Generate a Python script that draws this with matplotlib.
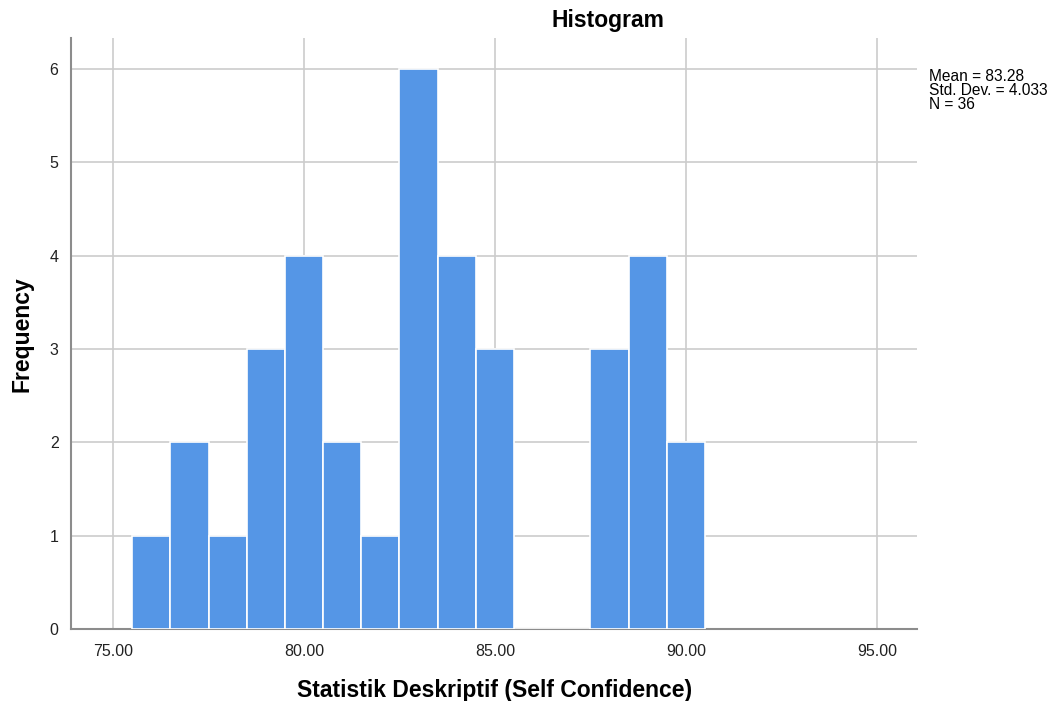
import matplotlib
matplotlib.use("Agg")
import matplotlib.pyplot as plt

plt.rcParams['font.family'] = ['Liberation Sans', 'DejaVu Sans']

bin_centers = [76, 77, 78, 79, 80, 81, 82, 83, 84, 85, 86, 87, 88, 89, 90]
counts = [1, 2, 1, 3, 4, 2, 1, 6, 4, 3, 0, 0, 3, 4, 2]
x_ticks = [75, 80, 85, 90, 95]
x_tick_labels = ["75.00", "80.00", "85.00", "90.00", "95.00"]
y_ticks = [0, 1, 2, 3, 4, 5, 6]
stats_text = "Mean = 83.28\nStd. Dev. = 4.033\nN = 36"

fig = plt.figure(figsize=(10.57, 7.01), dpi=100)
ax = fig.add_axes([0.0672, 0.1027, 0.8003, 0.8431])

ax.bar(bin_centers, counts, width=1.0, color='#5596E6', edgecolor='white',
       linewidth=1.2, zorder=3)

ax.set_xlim(73.9, 96.05)
ax.set_ylim(0, 6.33)
ax.set_xticks(x_ticks)
ax.set_xticklabels(x_tick_labels)
ax.set_yticks(y_ticks)
ax.grid(True, color='#cccccc', linewidth=1.2, zorder=0)
ax.set_axisbelow(True)
ax.tick_params(length=0, labelsize=11.5, colors='#222222')
ax.tick_params(axis='x', pad=11)
ax.tick_params(axis='y', pad=9)
for s in ['top', 'right']:
    ax.spines[s].set_visible(False)
for s in ['left', 'bottom']:
    ax.spines[s].set_color('#8c8c8c')
    ax.spines[s].set_linewidth(1.5)

fig.text(495 / 1057, 1 - 690 / 701, "Statistik Deskriptif (Self Confidence)",
         fontsize=16.5, fontweight='bold', ha='center', va='center')
fig.text(22 / 1057, 1 - 334 / 701, "Frequency", fontsize=16.5,
         fontweight='bold', ha='center', va='center', rotation=90)

fig.text(608 / 1057, 1 - 20 / 701, "Histogram", fontsize=16.5,
         fontweight='bold', ha='center', va='center')
fig.text(929 / 1057, 1 - 69 / 701, stats_text, fontsize=11.2, ha='left',
         va='top', linespacing=0.9)

fig.savefig("out.png", dpi=100)
